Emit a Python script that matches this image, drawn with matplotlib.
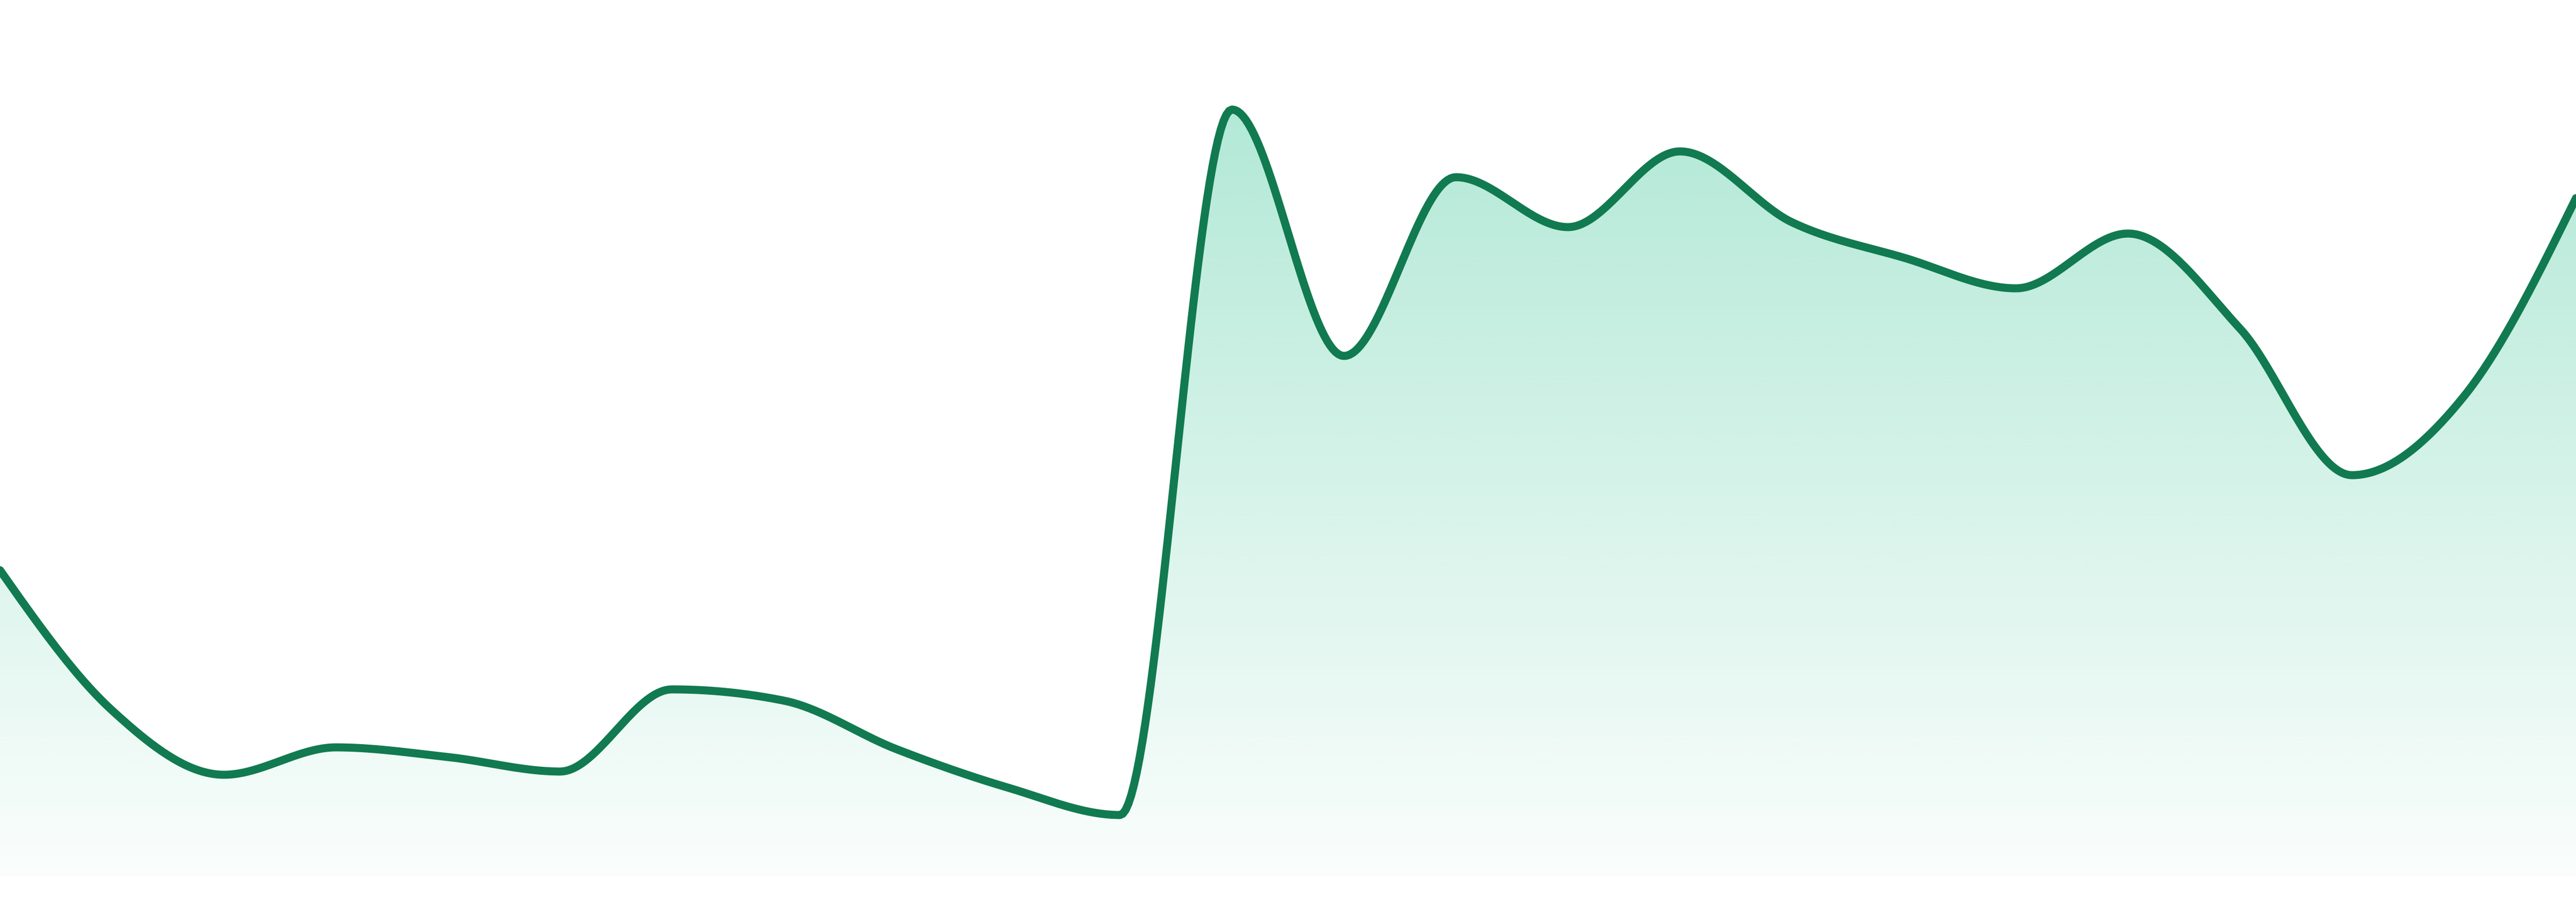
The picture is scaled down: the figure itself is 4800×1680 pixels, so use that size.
import numpy as np
import matplotlib
matplotlib.use("Agg")
import matplotlib.pyplot as plt
from matplotlib.colors import to_rgb
from matplotlib.patches import Polygon

# data (24 evenly spaced points)
idx = np.arange(24)
values = [190, 103, 63, 80, 74, 65, 116, 109, 79, 55, 38, 476,
          323, 434, 403, 450, 406, 384, 365, 399, 340, 249, 298, 421]

line_color = "#117a50"
fill_color = "#10b981"


def monotone_x(x, y, n=40):
    # d3 curveMonotoneX (Steffen) -> dense points
    x = np.asarray(x, float)
    y = np.asarray(y, float)
    h = np.diff(x)
    s = np.diff(y) / h
    t = np.zeros(len(x))
    for i in range(1, len(x) - 1):
        s0, s1 = s[i - 1], s[i]
        p = (s0 * h[i] + s1 * h[i - 1]) / (h[i - 1] + h[i])
        t[i] = (np.sign(s0) + np.sign(s1)) * min(abs(s0), abs(s1), 0.5 * abs(p))
    t[0] = (3 * s[0] - t[1]) / 2
    t[-1] = (3 * s[-1] - t[-2]) / 2
    xs, ys = [], []
    u = np.linspace(0, 1, n, endpoint=False)
    for i in range(len(x) - 1):
        dx = h[i] / 3
        p0 = np.array([x[i], y[i]])
        p1 = np.array([x[i] + dx, y[i] + dx * t[i]])
        p2 = np.array([x[i + 1] - dx, y[i + 1] - dx * t[i + 1]])
        p3 = np.array([x[i + 1], y[i + 1]])
        b = ((1 - u) ** 3)[:, None] * p0 + (3 * (1 - u) ** 2 * u)[:, None] * p1 \
            + (3 * (1 - u) * u ** 2)[:, None] * p2 + (u ** 3)[:, None] * p3
        xs.append(b[:, 0])
        ys.append(b[:, 1])
    xs.append([x[-1]])
    ys.append([y[-1]])
    return np.concatenate(xs), np.concatenate(ys)


cx, cy = monotone_x(idx, values)

fig = plt.figure(figsize=(16, 5.6), dpi=300)
ax = fig.add_axes([0, 0, 1, 1])
ax.set_xlim(0, 23)
ax.set_ylim(-16, 544)
ax.axis("off")

# vertical gradient fill under the curve
top = max(values)
r, g, b = to_rgb(fill_color)
alpha = np.linspace(0.32, 0.02, 256)[:, None]
grad = np.zeros((256, 1, 4))
grad[..., 0], grad[..., 1], grad[..., 2] = r, g, b
grad[..., 3] = alpha
im = ax.imshow(grad, aspect="auto", extent=[0, 23, 0, top], origin="upper",
               interpolation="bilinear", zorder=1)
poly = Polygon(np.column_stack([np.r_[cx, 23, 0], np.r_[cy, 0, 0]]),
               closed=True, facecolor="none", edgecolor="none")
ax.add_patch(poly)
im.set_clip_path(poly)

ax.plot(cx, cy, color=line_color, linewidth=3.6, solid_capstyle="round",
        solid_joinstyle="round", zorder=3)

fig.savefig("out.png", dpi=300, facecolor="white")
